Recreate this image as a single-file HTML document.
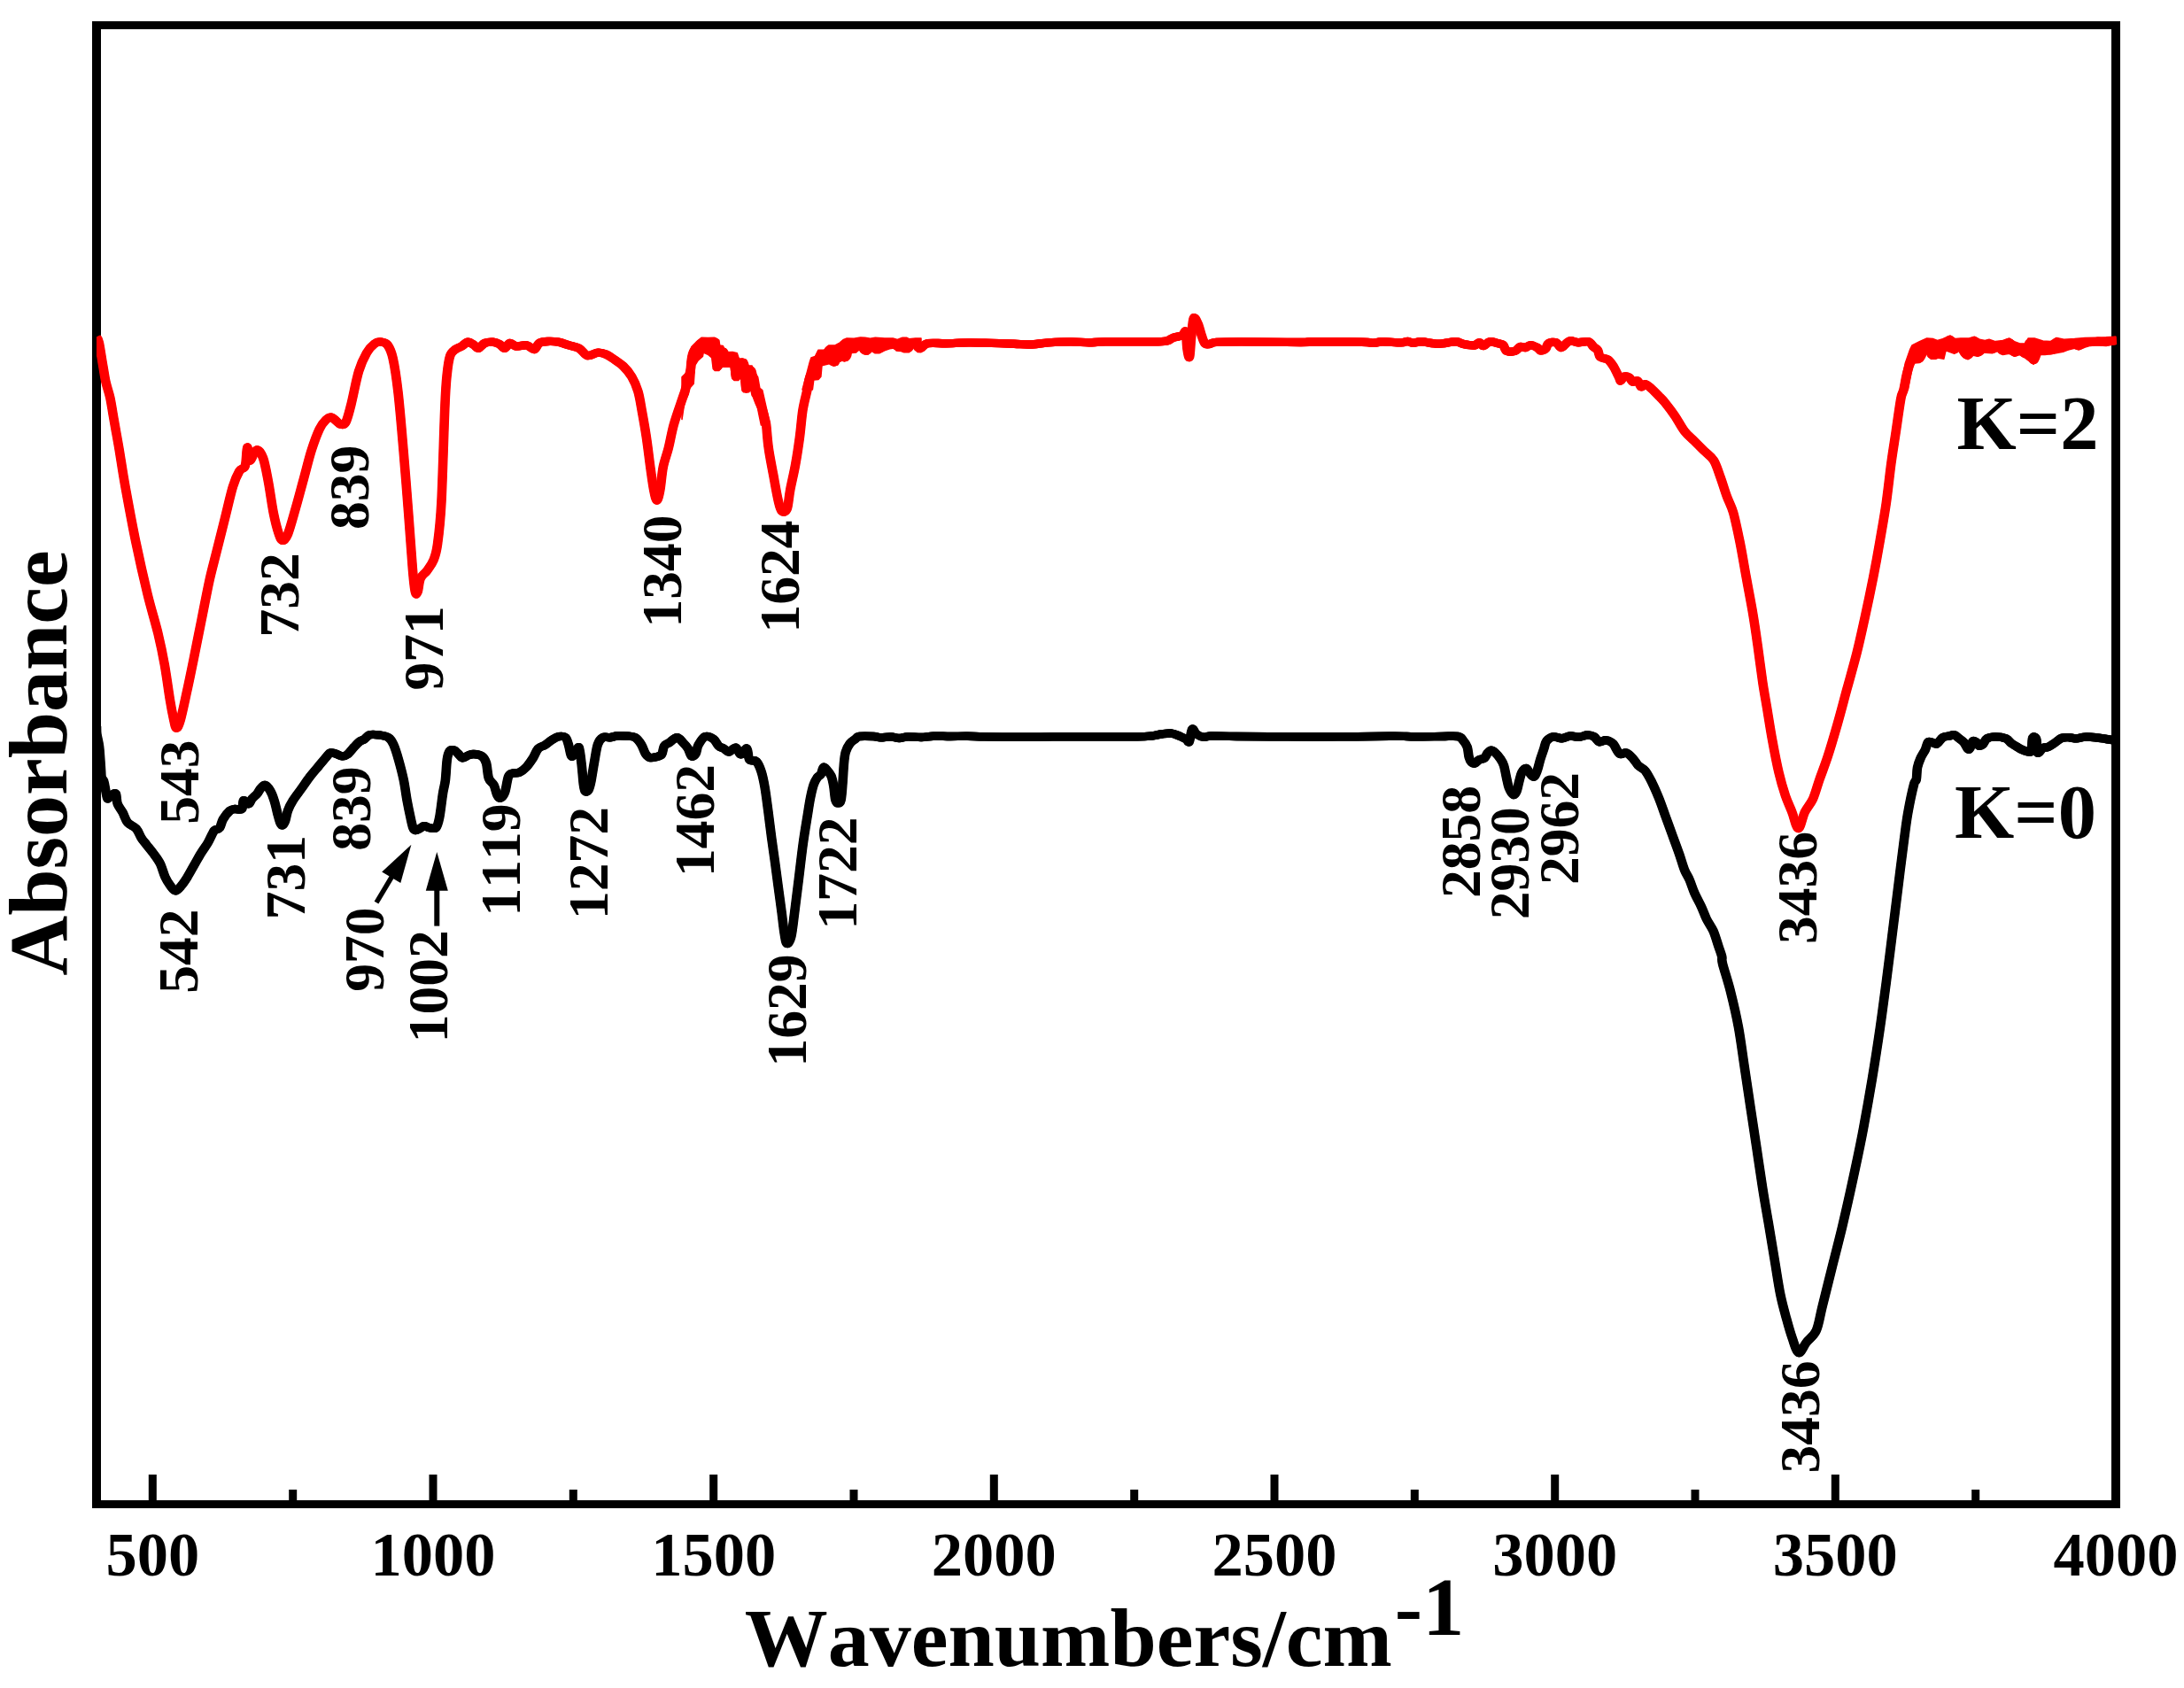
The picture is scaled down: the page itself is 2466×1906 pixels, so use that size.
<!DOCTYPE html>
<html lang="en"><head><meta charset="utf-8"><title>FTIR spectra</title>
<style>html,body{margin:0;padding:0;background:#fff}body{width:2466px;height:1906px;overflow:hidden}svg{display:block}</style></head>
<body>
<svg width="2466" height="1906" viewBox="0 0 2466 1906">
<rect width="2466" height="1906" fill="#fff"/>
<g fill="#000">
<rect x="104" y="24" width="2290" height="9"/>
<rect x="104" y="1694" width="2290" height="9"/>
<rect x="104" y="24" width="10" height="1679"/>
<rect x="2384" y="24" width="10" height="1679"/>
<rect x="167.8" y="1665" width="9" height="30"/>
<rect x="484.5" y="1665" width="9" height="30"/>
<rect x="801.2" y="1665" width="9" height="30"/>
<rect x="1117.8" y="1665" width="9" height="30"/>
<rect x="1434.5" y="1665" width="9" height="30"/>
<rect x="1751.2" y="1665" width="9" height="30"/>
<rect x="2067.8" y="1665" width="9" height="30"/>
<rect x="326.2" y="1682" width="9" height="13"/>
<rect x="642.8" y="1682" width="9" height="13"/>
<rect x="959.5" y="1682" width="9" height="13"/>
<rect x="1276.2" y="1682" width="9" height="13"/>
<rect x="1592.8" y="1682" width="9" height="13"/>
<rect x="1909.5" y="1682" width="9" height="13"/>
<rect x="2226.2" y="1682" width="9" height="13"/>
</g>
<clipPath id="plot"><rect x="109" y="0" width="2281.5" height="1906"/></clipPath>
<g fill="none" stroke-width="9.4" stroke-linejoin="round" stroke-linecap="butt" clip-path="url(#plot)">
<path id="kb" d="M109.0,820.2C109.1,821.7 108.9,825.1 109.4,829.0C109.9,832.9 111.3,836.5 112.1,843.3C112.9,850.1 113.7,864.2 114.1,870.0C114.5,875.8 114.2,875.9 114.7,877.9C115.2,879.9 116.5,879.9 117.2,882.3C118.0,884.7 118.6,889.1 119.2,892.1C119.8,895.1 120.3,898.4 120.8,900.0C121.3,901.6 121.2,902.0 122.1,901.7C123.0,901.4 124.5,899.0 126.0,898.1C127.5,897.2 129.7,894.6 130.8,896.2C131.9,897.8 131.4,904.2 132.7,907.7C134.0,911.2 136.6,913.8 138.5,917.3C140.4,920.8 141.6,925.8 144.2,928.8C146.8,931.8 151.2,932.7 153.8,935.6C156.4,938.5 157.7,943.2 159.6,946.2C161.5,949.2 163.2,950.9 165.4,953.8C167.7,956.7 170.5,960.0 173.1,963.5C175.7,967.0 178.6,970.5 180.8,975.0C183.0,979.5 184.6,986.2 186.5,990.4C188.4,994.6 190.4,997.4 192.3,1000.0C194.2,1002.6 196.0,1005.8 198.1,1005.8C200.2,1005.8 202.6,1002.6 204.8,1000.0C207.0,997.4 209.1,994.2 211.5,990.4C213.9,986.5 216.6,981.4 219.2,976.9C221.8,972.4 224.3,967.7 226.9,963.5C229.5,959.3 232.5,955.4 234.6,951.9C236.7,948.4 238.1,944.7 239.4,942.3C240.7,939.9 240.9,938.8 242.3,937.5C243.8,936.2 246.5,936.7 248.1,934.6C249.7,932.5 250.0,928.2 251.9,925.0C253.8,921.8 257.4,917.3 259.6,915.4C261.9,913.5 263.1,913.8 265.4,913.5C267.6,913.2 271.5,915.1 273.1,913.5C274.7,911.9 273.7,904.8 275.0,903.8C276.3,902.8 279.2,908.0 280.8,907.7C282.4,907.4 283.0,903.8 284.6,901.9C286.2,900.0 288.8,898.1 290.4,896.2C292.0,894.3 292.8,892.0 294.2,890.4C295.6,888.8 297.2,886.2 299.0,886.5C300.8,886.8 303.0,889.4 304.8,892.3C306.6,895.2 308.2,899.3 309.6,903.8C311.1,908.3 312.4,915.0 313.5,919.2C314.6,923.4 315.4,926.7 316.3,928.8C317.2,930.9 318.2,932.0 319.2,931.7C320.2,931.4 321.1,929.6 322.1,926.9C323.1,924.2 323.6,919.2 325.0,915.4C326.4,911.5 328.2,908.0 330.8,903.8C333.4,899.6 337.2,894.9 340.4,890.4C343.6,885.9 346.8,881.1 350.0,876.9C353.2,872.7 356.4,869.2 359.6,865.4C362.8,861.5 366.9,856.4 369.2,853.8C371.4,851.2 371.5,850.5 373.1,850.0C374.7,849.5 376.6,850.4 378.8,851.0C381.0,851.6 384.2,853.6 386.5,853.8C388.8,853.9 390.1,853.6 392.3,851.9C394.6,850.1 397.8,845.7 400.0,843.3C402.2,840.9 403.9,839.0 405.8,837.5C407.7,836.0 409.6,835.9 411.5,834.6C413.4,833.3 414.7,830.6 417.3,829.8C419.9,829.0 423.4,829.3 426.9,829.8C430.4,830.3 435.6,830.9 438.5,832.7C441.4,834.5 442.3,836.2 444.2,840.4C446.1,844.6 448.1,851.0 450.0,857.7C451.9,864.4 454.2,873.1 455.8,880.8C457.4,888.5 458.3,896.8 459.6,903.8C460.9,910.8 462.4,918.0 463.5,923.1C464.6,928.2 465.4,932.2 466.3,934.6C467.2,937.0 467.9,937.3 469.2,937.5C470.5,937.7 472.4,936.4 474.0,935.6C475.6,934.8 477.0,932.9 478.8,932.7C480.6,932.5 482.4,934.3 484.6,934.6C486.9,934.9 490.4,936.5 492.3,934.6C494.2,932.7 494.9,929.5 496.2,923.1C497.5,916.7 498.9,903.2 500.0,896.2C501.1,889.2 502.1,887.2 502.9,880.8C503.7,874.4 504.0,863.2 504.8,857.7C505.6,852.2 506.4,849.9 507.7,848.1C509.0,846.3 510.9,846.6 512.5,847.1C514.1,847.6 515.7,849.5 517.3,851.0C518.9,852.5 520.2,855.5 522.1,855.8C524.0,856.1 526.7,853.6 528.8,852.9C530.9,852.2 532.0,851.4 534.6,851.5C537.2,851.6 541.8,852.1 544.2,853.8C546.6,855.5 547.7,857.3 549.0,861.5C550.3,865.7 550.4,874.6 551.9,878.8C553.4,883.0 556.1,883.3 557.7,886.5C559.3,889.7 560.2,895.7 561.5,898.1C562.8,900.5 563.9,901.6 565.4,901.0C566.9,900.4 568.8,898.2 570.2,894.2C571.6,890.2 572.6,880.4 574.0,876.9C575.4,873.4 576.7,873.9 578.8,873.1C580.9,872.3 583.9,873.2 586.5,872.1C589.1,871.0 591.6,869.0 594.2,866.3C596.8,863.6 599.6,859.3 601.9,855.8C604.1,852.3 605.5,847.6 607.7,845.2C610.0,842.8 612.8,842.9 615.4,841.3C618.0,839.7 620.5,837.2 623.1,835.6C625.7,834.0 628.2,832.2 630.8,831.7C633.4,831.2 636.6,830.9 638.5,832.7C640.4,834.5 641.2,838.8 642.3,842.3C643.4,845.8 643.9,852.5 645.2,853.8C646.5,855.1 648.6,851.6 650.0,850.0C651.4,848.4 652.7,842.0 653.8,844.2C654.9,846.5 655.9,856.8 656.7,863.5C657.5,870.2 658.1,879.6 658.7,884.6C659.4,889.6 659.7,892.0 660.6,893.3C661.5,894.6 663.3,894.1 664.4,892.3C665.5,890.5 666.2,888.2 667.3,882.7C668.4,877.2 669.9,866.7 671.2,859.6C672.5,852.5 673.4,844.9 675.0,840.4C676.6,835.9 678.5,834.0 680.8,832.7C683.0,831.4 685.6,833.0 688.5,832.7C691.4,832.4 694.6,831.0 698.1,830.8C701.6,830.5 706.4,830.9 709.6,831.2C712.8,831.5 714.9,831.2 717.3,832.7C719.7,834.2 722.1,837.4 724.0,840.4C725.9,843.4 727.2,848.5 728.8,851.0C730.4,853.5 731.8,854.8 733.7,855.4C735.6,856.0 738.2,855.4 740.4,854.8C742.6,854.2 745.5,854.0 747.1,851.9C748.7,849.8 748.5,844.5 750.0,842.3C751.5,840.1 753.4,840.1 755.8,838.5C758.2,836.9 761.8,832.7 764.4,832.7C767.0,832.7 769.1,836.4 771.2,838.5C773.3,840.6 775.3,842.7 776.9,845.2C778.5,847.8 779.3,852.8 780.8,853.8C782.2,854.8 784.3,853.1 785.6,851.0C786.9,848.9 786.7,844.5 788.5,841.3C790.3,838.1 793.3,832.8 796.2,831.7C799.1,830.6 803.2,832.8 805.8,834.6C808.3,836.4 809.6,840.5 811.5,842.3C813.4,844.1 815.4,844.1 817.3,845.2C819.2,846.3 820.9,849.2 823.1,849.0C825.4,848.8 828.6,843.7 830.8,844.2C833.0,844.7 834.4,851.7 836.5,851.9C838.6,852.1 841.7,844.2 843.3,845.2C844.9,846.2 844.5,855.3 846.2,857.7C848.0,860.1 851.6,857.4 853.8,859.6C856.0,861.9 858.0,866.4 859.6,871.2C861.2,876.0 862.2,881.1 863.5,888.5C864.8,895.9 866.0,905.8 867.3,915.4C868.6,925.0 869.9,936.6 871.2,946.2C872.5,955.8 873.7,963.8 875.0,973.1C876.3,982.4 877.5,992.3 878.8,1001.9C880.1,1011.5 881.6,1022.1 882.7,1030.8C883.8,1039.5 884.6,1048.0 885.6,1053.8C886.6,1059.6 887.2,1064.8 888.5,1065.4C889.8,1066.1 891.9,1063.5 893.3,1057.7C894.7,1051.9 895.7,1041.7 897.1,1030.8C898.5,1019.9 900.3,1005.2 901.9,992.3C903.5,979.3 905.1,964.8 906.7,953.1C908.3,941.4 910.1,930.9 911.5,922.3C912.9,913.6 913.8,907.3 915.0,901.2C916.2,895.1 917.5,889.6 918.8,885.8C920.1,881.9 921.4,880.0 922.7,878.1C924.1,876.2 925.7,876.1 926.9,874.2C928.1,872.3 928.7,867.3 929.8,866.5C930.9,865.7 932.2,867.8 933.7,869.4C935.2,871.0 937.2,873.2 938.5,876.2C939.8,879.2 940.5,883.2 941.3,887.7C942.1,892.2 942.5,899.9 943.3,903.1C944.1,906.3 945.2,906.9 946.2,906.9C947.2,906.9 948.7,907.0 949.6,903.1C950.5,899.2 951.0,890.5 951.5,883.8C952.0,877.1 952.4,868.5 952.9,862.7C953.4,856.9 953.7,853.1 954.8,849.2C955.9,845.4 957.8,842.0 959.6,839.6C961.4,837.2 963.6,836.1 965.4,834.8C967.2,833.4 966.7,832.0 970.2,831.5C973.7,831.0 982.5,831.3 986.5,831.5C990.5,831.7 991.0,832.8 994.2,832.9C997.4,833.0 1002.3,831.8 1005.8,831.9C1009.3,832.0 1012.2,833.5 1015.4,833.5C1018.6,833.5 1020.8,832.1 1025.0,831.9C1029.2,831.7 1035.6,832.6 1040.4,832.5C1045.2,832.4 1048.3,831.4 1053.8,831.2C1059.2,831.0 1066.7,831.5 1073.1,831.5C1079.5,831.5 1085.9,831.1 1092.3,831.2C1098.7,831.3 1101.9,831.7 1111.5,831.9C1121.1,832.1 1137.2,832.3 1150.0,832.3C1162.8,832.3 1172.5,832.0 1188.5,831.9C1204.5,831.8 1230.2,831.9 1246.2,831.9C1262.2,831.9 1275.6,832.0 1284.6,831.9C1293.6,831.8 1295.5,831.5 1300.0,831.0C1304.5,830.5 1307.7,829.5 1311.5,829.0C1315.3,828.5 1319.6,827.7 1323.1,828.1C1326.6,828.5 1330.0,830.4 1332.7,831.5C1335.4,832.6 1337.7,833.8 1339.4,834.8C1341.1,835.8 1341.7,839.1 1342.7,837.7C1343.7,836.3 1344.5,828.6 1345.2,826.2C1345.9,823.8 1346.1,822.8 1347.1,823.3C1348.1,823.8 1348.9,827.5 1351.0,829.0C1353.1,830.5 1356.9,832.0 1359.6,832.3C1362.3,832.6 1361.2,831.1 1367.3,831.0C1373.4,830.9 1381.8,831.4 1396.2,831.5C1410.6,831.6 1434.6,831.8 1453.8,831.9C1473.0,832.0 1492.3,832.0 1511.5,831.9C1530.7,831.8 1556.4,831.4 1569.2,831.3C1582.0,831.2 1583.4,831.4 1588.5,831.5C1593.6,831.6 1593.3,831.9 1600.0,831.9C1606.7,831.9 1621.1,831.6 1628.8,831.5C1636.5,831.4 1642.3,830.8 1646.2,831.5C1650.1,832.2 1650.2,833.8 1651.9,835.8C1653.7,837.8 1655.6,840.3 1656.7,843.5C1657.8,846.7 1657.9,852.1 1658.7,855.0C1659.5,857.9 1660.4,859.7 1661.5,860.8C1662.6,861.9 1664.0,862.2 1665.4,861.7C1666.9,861.2 1668.4,858.9 1670.2,857.9C1672.0,856.9 1674.4,857.3 1676.0,856.0C1677.6,854.7 1678.5,851.7 1679.8,850.2C1681.1,848.8 1682.2,847.3 1683.7,847.3C1685.2,847.3 1686.8,848.6 1688.5,850.2C1690.2,851.8 1692.6,854.5 1694.2,856.9C1695.8,859.3 1697.0,861.1 1698.1,864.6C1699.2,868.1 1700.0,873.9 1701.0,878.1C1702.0,882.3 1702.5,886.4 1703.8,889.6C1705.1,892.8 1707.2,896.6 1708.7,897.3C1710.2,897.9 1711.4,896.1 1712.5,893.5C1713.6,890.9 1714.4,885.4 1715.4,881.9C1716.4,878.4 1717.0,874.7 1718.3,872.3C1719.6,869.9 1721.7,867.5 1723.1,867.5C1724.5,867.5 1725.5,870.7 1726.9,872.3C1728.3,873.9 1730.2,877.4 1731.7,877.1C1733.2,876.8 1734.3,873.8 1735.6,870.4C1736.9,867.0 1738.1,861.1 1739.4,856.9C1740.7,852.7 1742.2,848.8 1743.3,845.4C1744.4,842.0 1744.5,839.0 1746.2,836.7C1748.0,834.5 1750.9,832.4 1753.8,831.9C1756.7,831.4 1760.3,833.9 1763.5,833.8C1766.7,833.6 1769.9,831.2 1773.1,831.0C1776.3,830.8 1779.5,832.5 1782.7,832.3C1785.9,832.1 1789.4,830.1 1792.3,830.0C1795.2,829.9 1797.8,830.6 1800.0,831.9C1802.2,833.2 1803.5,837.1 1805.8,837.7C1808.0,838.4 1810.9,835.5 1813.5,835.8C1816.1,836.1 1818.7,837.0 1821.2,839.6C1823.8,842.2 1826.2,849.4 1828.8,851.2C1831.3,853.0 1833.9,849.2 1836.5,850.2C1839.1,851.2 1842.0,854.5 1844.2,856.9C1846.5,859.3 1847.8,862.4 1850.0,864.6C1852.2,866.9 1855.1,867.2 1857.7,870.4C1860.3,873.6 1862.8,878.7 1865.4,883.8C1868.0,888.9 1870.5,894.8 1873.1,901.2C1875.7,907.6 1878.2,915.2 1880.8,922.3C1883.4,929.3 1885.9,936.5 1888.5,943.5C1891.1,950.5 1894.0,958.2 1896.2,964.6C1898.4,971.0 1900.0,977.1 1901.9,981.9C1903.8,986.7 1905.8,989.0 1907.7,993.5C1909.6,998.0 1911.2,1003.7 1913.5,1008.8C1915.8,1013.9 1919.0,1019.4 1921.2,1024.2C1923.4,1029.0 1924.7,1033.2 1926.9,1037.7C1929.1,1042.2 1932.3,1046.1 1934.6,1051.2C1936.8,1056.3 1938.8,1063.7 1940.4,1068.5C1942.0,1073.3 1943.4,1076.7 1944.2,1080.0C1945.0,1083.3 1943.4,1081.5 1945.0,1088.1C1946.6,1094.7 1951.0,1107.6 1954.0,1119.6C1957.0,1131.6 1960.4,1145.9 1963.0,1160.2C1965.6,1174.5 1967.5,1190.2 1969.8,1205.2C1972.0,1220.2 1974.2,1235.2 1976.5,1250.2C1978.8,1265.2 1981.0,1280.2 1983.3,1295.2C1985.5,1310.2 1987.8,1325.9 1990.0,1340.2C1992.2,1354.5 1994.5,1367.3 1996.8,1380.8C1999.0,1394.3 2001.2,1407.8 2003.5,1421.3C2005.8,1434.8 2008.0,1450.5 2010.3,1461.8C2012.6,1473.0 2014.8,1480.5 2017.1,1488.8C2019.3,1497.0 2021.5,1504.8 2023.8,1511.3C2026.1,1517.8 2028.4,1526.8 2031.0,1527.5C2033.6,1528.2 2036.3,1520.0 2039.6,1515.8C2042.9,1511.6 2047.8,1509.0 2050.8,1502.3C2053.8,1495.5 2054.6,1487.3 2057.6,1475.3C2060.6,1463.3 2065.1,1445.3 2068.8,1430.3C2072.6,1415.3 2076.3,1401.1 2080.1,1385.3C2083.8,1369.5 2087.6,1353.0 2091.3,1335.7C2095.1,1318.4 2098.8,1301.2 2102.6,1281.7C2106.3,1262.2 2110.4,1239.0 2113.8,1218.7C2117.2,1198.5 2120.3,1178.2 2122.9,1160.2C2125.5,1142.2 2127.3,1127.9 2129.6,1110.6C2131.8,1093.3 2134.2,1074.6 2136.4,1056.6C2138.7,1038.6 2140.8,1020.6 2143.1,1002.6C2145.3,984.6 2148.0,962.9 2149.9,948.6C2151.8,934.4 2152.5,927.6 2154.4,917.1C2156.3,906.6 2159.5,891.7 2161.1,885.5C2162.7,879.3 2163.2,883.1 2163.8,880.0C2164.5,876.9 2164.2,870.7 2165.0,866.7C2165.8,862.7 2167.1,859.4 2168.6,856.0C2170.1,852.6 2172.5,849.4 2173.9,846.4C2175.3,843.4 2175.7,839.5 2176.9,838.1C2178.1,836.7 2179.4,837.8 2181.1,838.1C2182.8,838.4 2184.9,840.8 2187.0,839.9C2189.1,839.0 2191.3,834.2 2193.6,832.7C2195.9,831.2 2198.5,831.5 2200.7,831.0C2202.9,830.5 2204.9,829.4 2206.7,829.8C2208.5,830.2 2209.6,831.9 2211.4,833.3C2213.2,834.7 2215.6,836.0 2217.4,838.1C2219.2,840.2 2220.9,844.7 2222.1,845.8C2223.3,846.9 2223.6,846.1 2224.5,844.6C2225.4,843.1 2226.3,838.0 2227.5,836.9C2228.7,835.8 2230.5,837.2 2231.7,838.1C2232.9,839.0 2233.4,841.9 2234.6,842.3C2235.8,842.7 2237.3,841.9 2238.8,840.5C2240.3,839.1 2241.2,835.3 2243.6,833.9C2246.0,832.5 2249.5,831.9 2253.1,831.9C2256.7,831.9 2262.0,832.7 2265.0,833.9C2268.0,835.1 2269.0,837.8 2271.0,839.3C2273.0,840.8 2274.9,841.7 2276.9,842.9C2278.9,844.1 2280.7,845.4 2282.9,846.4C2285.1,847.4 2288.2,848.6 2290.0,848.8C2291.8,849.0 2292.8,850.0 2293.6,847.6C2294.4,845.2 2294.2,837.1 2294.8,834.5C2295.4,831.9 2296.3,831.9 2297.1,832.1C2297.9,832.3 2298.9,832.7 2299.5,835.7C2300.1,838.7 2299.5,848.5 2300.7,850.0C2301.9,851.5 2304.7,845.7 2306.7,844.6C2308.7,843.5 2310.2,844.6 2312.6,843.5C2315.0,842.4 2318.4,839.8 2321.0,838.1C2323.6,836.4 2325.5,834.2 2328.1,833.3C2330.7,832.4 2333.6,832.6 2336.4,832.7C2339.2,832.8 2341.8,834.0 2344.8,833.9C2347.8,833.8 2350.7,832.3 2354.3,832.1C2357.9,831.9 2362.2,832.3 2366.2,832.7C2370.2,833.1 2374.3,833.9 2378.1,834.5C2381.9,835.1 2387.0,836.0 2388.8,836.3" stroke="#000"/>
<use href="#kb" x="-0.6" stroke="#000"/><use href="#kb" x="0.6" stroke="#000"/>
<path id="kr" d="M109.0,380.7C109.5,381.7 110.6,381.3 111.8,386.7C113.0,392.1 115.0,405.9 116.3,413.3C117.6,420.7 118.1,425.2 119.4,431.1C120.7,437.0 123.0,443.0 124.3,448.9C125.6,454.8 126.4,460.7 127.4,466.6C128.4,472.5 129.2,477.2 130.5,484.4C131.8,491.6 133.2,499.0 135.0,509.9C136.8,520.8 138.4,532.6 141.5,549.6C144.6,566.6 149.1,591.6 153.3,611.8C157.5,632.0 162.4,653.7 166.6,671.0C170.8,688.3 175.3,702.2 178.5,715.5C181.7,728.8 183.7,738.7 185.9,751.0C188.1,763.3 190.1,779.1 191.8,789.5C193.5,799.9 195.1,807.8 196.3,813.2C197.5,818.6 198.0,822.1 199.2,822.1C200.4,822.1 201.7,820.1 203.7,813.2C205.7,806.3 208.6,792.0 211.1,780.6C213.6,769.2 215.8,758.4 218.5,745.1C221.2,731.8 224.4,715.4 227.4,700.6C230.4,685.8 233.4,669.5 236.3,656.2C239.2,642.9 242.2,632.6 245.1,620.7C248.0,608.9 251.0,597.0 254.0,585.1C257.0,573.2 260.2,558.5 262.9,549.6C265.6,540.7 268.0,535.8 270.3,531.8C272.6,527.8 275.3,530.3 276.8,525.9C278.3,521.5 278.3,506.1 279.2,505.1C280.1,504.1 280.5,519.5 282.2,520.0C283.9,520.5 287.1,508.6 289.6,508.1C292.1,507.6 294.8,511.1 297.0,517.0C299.2,522.9 300.9,533.2 302.9,543.6C304.9,554.0 306.8,569.3 308.8,579.2C310.8,589.1 313.1,597.7 314.8,602.9C316.5,608.1 317.5,610.3 319.2,610.3C320.9,610.3 322.6,609.1 325.1,602.9C327.6,596.7 331.0,583.7 334.0,573.3C337.0,562.9 339.9,551.6 342.9,540.7C345.9,529.8 348.8,517.5 351.8,508.1C354.8,498.7 358.0,490.1 360.7,484.4C363.4,478.7 365.9,476.2 368.1,474.0C370.3,471.8 372.0,470.9 374.0,471.1C376.0,471.4 378.2,474.2 379.9,475.5C381.6,476.8 382.7,478.9 384.4,479.1C386.1,479.4 388.3,480.6 390.3,477.0C392.3,473.4 393.7,467.3 396.2,457.7C398.7,448.1 402.1,429.1 405.1,419.2C408.1,409.3 411.0,403.7 414.0,398.5C417.0,393.3 420.2,390.2 422.9,388.1C425.6,386.0 427.8,385.9 430.3,386.1C432.8,386.4 435.5,386.6 437.7,389.6C439.9,392.7 441.6,395.5 443.6,404.4C445.6,413.3 447.5,425.6 449.5,442.9C451.5,460.2 453.5,484.9 455.5,508.1C457.5,531.3 459.7,560.0 461.4,582.2C463.1,604.4 464.6,627.1 465.8,641.4C467.0,655.7 467.8,663.6 468.8,668.1C469.8,672.6 470.7,670.6 471.7,668.1C472.7,665.6 473.0,657.2 474.7,653.2C476.4,649.2 479.6,647.9 482.1,644.4C484.6,640.9 487.5,637.5 489.5,632.5C491.5,627.5 492.5,625.6 494.0,614.7C495.5,603.8 497.0,593.3 498.4,567.3C499.8,541.3 501.3,482.6 502.4,458.5C503.4,434.4 503.7,432.4 504.7,422.9C505.7,413.4 506.7,406.3 508.3,401.6C509.9,396.9 512.0,396.3 514.2,394.5C516.4,392.7 518.9,392.4 521.3,391.0C523.7,389.6 526.0,386.4 528.4,386.2C530.8,386.0 533.5,388.6 535.5,389.8C537.5,391.0 538.3,393.7 540.3,393.3C542.3,392.9 544.6,388.6 547.4,387.4C550.2,386.2 554.1,386.0 556.9,386.2C559.7,386.4 561.8,387.4 564.0,388.6C566.2,389.8 567.9,393.5 569.9,393.3C571.9,393.1 573.6,387.8 575.8,387.4C578.0,387.0 579.7,390.6 582.9,391.0C586.1,391.4 591.4,389.2 594.8,389.8C598.2,390.4 600.7,394.9 603.1,394.5C605.5,394.1 606.4,388.9 609.0,387.4C611.6,385.9 615.0,385.7 618.5,385.5C622.0,385.3 626.3,385.5 630.3,386.2C634.2,386.9 638.2,388.6 642.2,389.8C646.2,391.0 650.5,391.3 654.0,393.3C657.5,395.3 659.9,400.8 663.5,401.6C667.1,402.4 671.8,398.3 675.4,398.1C679.0,397.9 681.8,399.0 684.9,400.4C688.0,401.8 691.1,404.2 694.3,406.4C697.4,408.6 700.6,410.4 703.8,413.5C707.0,416.6 710.5,420.6 713.3,425.3C716.1,430.0 718.4,435.2 720.4,441.9C722.4,448.6 723.5,456.9 725.1,465.6C726.7,474.3 728.3,483.3 729.9,494.0C731.5,504.7 733.2,519.7 734.6,529.6C736.0,539.5 737.0,547.4 738.2,553.3C739.4,559.2 740.5,565.1 741.7,565.1C742.9,565.1 744.1,559.6 745.3,553.3C746.5,547.0 747.2,535.1 748.8,527.2C750.4,519.3 752.8,513.8 754.8,505.9C756.8,498.0 758.2,488.9 760.7,479.8C763.2,470.8 767.8,458.1 770.0,451.6C772.2,445.1 772.6,444.3 773.7,440.6C774.8,436.9 775.6,433.3 776.6,429.6C777.6,425.9 778.8,422.3 779.5,418.6C780.2,414.9 780.2,410.8 780.6,407.6C781.0,404.4 781.4,401.8 782.1,399.6C782.8,397.4 783.6,396.0 784.7,394.4C785.9,392.8 787.5,391.3 789.0,390.0C790.5,388.7 791.7,386.9 793.4,386.7C795.1,386.5 797.6,388.5 799.3,388.6C801.0,388.7 802.4,387.9 803.7,387.5C805.1,387.1 806.5,384.9 807.4,386.4C808.2,387.9 808.4,392.0 808.8,396.6C809.2,401.2 809.0,412.6 809.9,413.8C810.8,415.0 812.8,406.7 814.0,404.0C815.2,401.3 815.7,396.7 816.9,397.4C818.1,398.1 819.8,407.4 821.3,408.4C822.8,409.4 824.4,403.8 825.7,403.2C827.0,402.6 828.4,401.1 829.3,404.7C830.1,408.3 830.1,422.5 830.8,424.8C831.5,427.1 832.9,421.0 833.7,418.6C834.6,416.2 834.8,411.6 835.9,410.5C837.0,409.4 839.2,407.4 840.3,412.0C841.3,416.6 841.5,435.1 842.2,438.0C842.9,440.9 843.8,432.8 844.7,429.6C845.6,426.4 846.8,419.2 847.7,418.6C848.6,418.0 849.2,422.8 849.9,425.9C850.6,428.9 851.2,433.2 852.1,436.9C853.0,440.6 854.0,444.8 855.0,447.9C856.0,450.9 856.9,452.8 857.9,455.2C858.9,457.6 859.8,459.5 860.8,462.6C861.8,465.7 863.1,470.7 863.8,473.6C864.5,476.5 864.5,474.6 865.2,480.0C865.9,485.4 866.4,496.4 867.8,505.9C869.1,515.4 871.5,526.8 873.3,536.7C875.1,546.6 877.1,558.4 878.7,565.1C880.3,571.8 881.0,575.4 882.7,577.0C884.4,578.6 887.1,578.6 888.7,574.6C890.3,570.6 890.6,561.6 892.2,553.3C893.8,545.0 896.3,534.8 898.1,524.9C899.9,515.0 901.5,504.3 902.9,494.0C904.3,483.7 905.0,472.2 906.4,463.2C907.8,454.2 910.2,446.2 911.5,440.0C912.8,433.8 913.0,429.5 914.4,425.9C915.8,422.3 918.5,419.0 919.6,418.6C920.7,418.2 920.4,424.9 921.0,423.7C921.6,422.5 922.5,414.1 923.2,411.3C923.9,408.5 924.7,408.6 925.4,406.9C926.1,405.2 926.4,401.5 927.6,401.0C928.8,400.5 931.2,405.0 932.7,404.0C934.2,403.0 935.3,394.7 936.4,395.2C937.5,395.7 938.2,404.8 939.3,406.9C940.4,409.0 942.1,409.6 943.0,407.6C943.9,405.7 943.8,395.8 944.5,395.2C945.2,394.6 946.4,404.5 947.4,404.0C948.4,403.5 949.3,392.4 950.3,392.2C951.3,391.9 952.3,401.0 953.3,402.5C954.3,404.0 955.5,403.4 956.2,401.0C956.9,398.6 956.9,389.1 957.7,387.8C958.6,386.5 959.8,392.3 961.3,393.0C962.8,393.7 964.7,393.3 966.4,392.2C968.1,391.1 970.1,386.0 971.6,386.4C973.1,386.8 973.9,392.9 975.2,394.4C976.5,395.9 978.4,396.3 979.6,395.2C980.8,394.1 981.2,388.1 982.6,387.8C984.0,387.6 986.0,392.7 987.7,393.7C989.4,394.7 991.0,394.5 992.8,393.7C994.6,392.9 996.8,389.6 998.7,388.6C1000.7,387.6 1002.7,387.9 1004.5,387.8C1006.3,387.7 1008.4,387.3 1009.7,387.8C1011.1,388.3 1011.3,390.2 1012.6,390.8C1013.9,391.4 1016.2,391.1 1017.7,391.5C1019.2,391.9 1020.0,392.8 1021.4,393.0C1022.8,393.2 1024.6,393.9 1025.8,393.0C1027.0,392.1 1027.4,388.4 1028.7,387.5C1030.0,386.6 1032.5,386.9 1033.8,387.8C1035.1,388.7 1035.8,391.7 1036.8,392.6C1037.8,393.5 1038.2,393.8 1040.0,393.0C1041.8,392.2 1043.0,388.6 1047.7,387.7C1052.4,386.8 1060.5,387.8 1068.2,387.7C1075.9,387.6 1085.2,386.9 1093.8,386.9C1102.3,386.8 1111.0,387.2 1119.5,387.4C1128.0,387.6 1137.8,387.9 1145.1,388.2C1152.4,388.5 1156.7,389.2 1163.1,389.0C1169.5,388.8 1175.9,387.4 1183.6,386.9C1191.3,386.4 1201.5,385.9 1209.2,385.9C1216.9,385.9 1223.3,386.9 1229.7,386.9C1236.1,386.9 1236.2,386.1 1247.7,385.9C1259.2,385.7 1287.5,386.0 1299.0,385.9C1310.5,385.8 1312.6,385.9 1316.9,385.1C1321.2,384.3 1321.6,382.4 1324.6,381.3C1327.6,380.2 1332.6,379.8 1334.9,378.7C1337.2,377.6 1337.8,372.3 1338.7,374.9C1339.6,377.5 1339.8,389.4 1340.5,394.1C1341.2,398.8 1342.3,405.2 1343.1,403.1C1343.9,401.0 1344.3,388.6 1345.1,381.3C1345.9,374.0 1346.4,362.1 1347.7,359.5C1349.0,356.9 1351.3,362.7 1352.8,365.9C1354.3,369.1 1355.4,375.1 1356.7,378.7C1358.0,382.3 1359.0,386.1 1360.5,387.7C1362.0,389.3 1363.5,388.7 1365.6,388.5C1367.7,388.3 1367.3,386.8 1373.3,386.4C1379.3,386.0 1388.2,385.9 1401.5,385.9C1414.8,385.9 1440.0,386.3 1452.8,386.4C1465.6,386.5 1474.0,386.5 1478.5,386.4C1483.0,386.3 1470.1,385.8 1480.0,385.8C1489.9,385.8 1525.8,385.9 1537.7,386.2C1549.6,386.4 1547.4,387.4 1551.2,387.3C1555.0,387.2 1555.7,385.9 1560.8,385.8C1565.9,385.7 1577.1,387.0 1581.9,386.9C1586.7,386.8 1587.3,385.3 1589.6,385.4C1591.8,385.5 1592.8,387.2 1595.4,387.3C1598.0,387.4 1600.2,385.6 1605.0,385.8C1609.8,386.0 1617.8,388.3 1624.2,388.3C1630.6,388.3 1638.7,385.7 1643.5,385.8C1648.3,385.9 1649.6,388.0 1653.1,388.7C1656.6,389.4 1661.7,390.3 1664.6,390.0C1667.5,389.7 1668.6,386.6 1670.4,386.7C1672.2,386.8 1673.3,390.8 1675.2,390.6C1677.1,390.5 1679.2,386.3 1681.9,385.8C1684.6,385.3 1688.9,387.1 1691.5,387.7C1694.1,388.3 1695.7,388.2 1697.3,389.6C1698.9,391.0 1699.0,395.2 1701.2,396.3C1703.5,397.4 1708.2,397.1 1710.8,396.3C1713.3,395.5 1714.6,392.1 1716.5,391.5C1718.4,390.9 1720.4,392.8 1722.3,392.5C1724.2,392.2 1725.8,389.6 1728.1,389.6C1730.3,389.6 1733.9,391.5 1735.8,392.5C1737.7,393.5 1738.0,395.6 1739.6,395.8C1741.2,396.0 1744.0,394.9 1745.4,393.5C1746.9,392.1 1746.4,388.8 1748.3,387.7C1750.2,386.6 1754.5,385.9 1756.9,386.7C1759.3,387.5 1760.8,392.3 1762.7,392.5C1764.6,392.7 1766.7,389.0 1768.5,387.7C1770.3,386.4 1771.1,385.0 1773.3,384.8C1775.5,384.6 1778.5,386.5 1781.9,386.7C1785.3,386.9 1790.6,385.0 1793.5,385.8C1796.4,386.6 1797.5,389.9 1799.2,391.5C1801.0,393.1 1802.7,393.5 1804.0,395.4C1805.3,397.3 1805.0,401.3 1806.9,403.1C1808.8,404.9 1813.0,404.1 1815.6,406.0C1818.2,407.9 1820.2,411.2 1822.3,414.6C1824.4,418.0 1826.8,423.6 1828.1,426.2C1829.4,428.8 1829.0,430.2 1830.0,430.0C1831.0,429.8 1832.2,425.8 1833.8,425.2C1835.4,424.6 1838.0,425.2 1839.6,426.2C1841.2,427.2 1841.9,430.4 1843.5,431.0C1845.1,431.6 1847.6,429.1 1849.2,430.0C1850.8,430.9 1851.6,436.1 1853.1,436.7C1854.5,437.3 1856.0,433.5 1857.9,433.8C1859.8,434.1 1861.9,436.3 1864.6,438.7C1867.3,441.1 1871.6,445.6 1874.2,448.3C1876.8,451.0 1877.2,451.1 1880.0,454.6C1882.8,458.1 1887.3,463.9 1891.0,469.3C1894.7,474.7 1898.3,482.1 1902.0,486.9C1905.7,491.7 1909.4,494.3 1913.1,498.0C1916.8,501.7 1920.4,505.3 1924.1,509.0C1927.8,512.7 1932.0,515.1 1935.1,520.0C1938.1,524.9 1940.0,531.7 1942.4,538.4C1944.9,545.1 1947.3,553.7 1949.8,560.4C1952.2,567.1 1954.6,570.2 1957.1,578.8C1959.5,587.4 1962.0,599.6 1964.5,611.8C1967.0,624.0 1969.3,638.7 1971.8,652.2C1974.2,665.7 1977.0,679.8 1979.2,692.7C1981.4,705.6 1982.9,716.5 1984.7,729.4C1986.5,742.2 1988.4,757.5 1990.2,769.8C1992.0,782.0 1993.9,791.9 1995.7,802.9C1997.5,813.9 1999.1,824.3 2001.2,835.9C2003.3,847.5 2006.1,862.3 2008.6,872.7C2011.0,883.1 2013.5,891.1 2015.9,898.4C2018.4,905.7 2020.8,910.5 2023.3,916.7C2025.8,922.9 2028.1,935.5 2030.6,935.5C2033.0,935.5 2035.2,922.3 2038.0,916.7C2040.8,911.1 2044.3,908.1 2047.1,902.0C2049.8,895.9 2051.7,888.0 2054.5,880.0C2057.3,872.0 2060.3,864.7 2063.7,854.3C2067.1,843.9 2071.0,830.5 2074.7,817.6C2078.4,804.7 2082.0,790.6 2085.7,777.1C2089.4,763.6 2093.3,750.2 2096.7,736.7C2100.1,723.2 2102.8,710.4 2105.9,696.3C2109.0,682.2 2112.3,666.3 2115.1,652.2C2117.9,638.1 2120.1,625.9 2122.5,611.8C2124.9,597.7 2127.7,582.5 2129.8,567.8C2131.9,553.1 2133.5,537.2 2135.3,523.7C2137.1,510.2 2139.0,499.1 2140.8,486.9C2142.6,474.6 2144.9,458.0 2146.3,450.2C2147.8,442.4 2148.4,444.7 2149.5,440.0C2150.6,435.3 2151.7,427.3 2153.1,421.9C2154.5,416.5 2156.1,411.2 2157.9,407.6C2159.7,404.0 2162.2,401.0 2163.8,400.5C2165.4,400.0 2166.0,405.4 2167.4,404.6C2168.8,403.8 2170.5,398.4 2172.1,395.7C2173.7,393.0 2175.4,387.8 2176.9,388.6C2178.4,389.4 2179.3,398.7 2181.1,400.5C2182.9,402.3 2185.7,401.1 2187.6,399.3C2189.5,397.5 2191.0,391.2 2192.4,389.8C2193.8,388.4 2194.4,392.0 2196.0,391.0C2197.6,390.0 2200.1,383.2 2201.9,383.8C2203.7,384.4 2204.9,393.7 2206.7,394.5C2208.5,395.3 2210.7,388.0 2212.6,388.6C2214.5,389.2 2216.4,396.0 2218.0,398.1C2219.6,400.2 2220.8,401.5 2222.1,401.1C2223.4,400.7 2224.5,398.4 2225.7,395.7C2226.9,393.0 2228.1,384.7 2229.3,385.0C2230.5,385.3 2231.3,396.1 2232.9,397.5C2234.5,398.9 2236.8,394.8 2238.8,393.3C2240.8,391.8 2243.0,388.5 2244.8,388.6C2246.6,388.7 2247.5,393.5 2249.5,393.9C2251.5,394.3 2254.7,390.7 2256.7,391.0C2258.7,391.3 2259.4,396.4 2261.4,395.7C2263.4,395.0 2266.4,386.5 2268.6,386.8C2270.8,387.1 2272.5,396.2 2274.5,397.5C2276.5,398.8 2278.5,394.2 2280.5,394.5C2282.5,394.8 2284.9,399.1 2286.4,399.3C2287.9,399.5 2288.5,397.7 2289.4,395.7C2290.3,393.7 2290.9,386.4 2291.8,387.4C2292.7,388.4 2294.0,398.5 2294.8,401.7C2295.6,404.9 2295.7,406.8 2296.5,406.4C2297.3,406.0 2298.6,402.3 2299.5,399.3C2300.4,396.3 2300.3,389.4 2301.9,388.6C2303.5,387.8 2306.2,393.5 2309.0,394.5C2311.8,395.5 2316.4,395.9 2318.6,394.5C2320.8,393.1 2320.1,386.8 2322.1,386.2C2324.1,385.6 2328.1,390.4 2330.5,391.0C2332.9,391.6 2334.4,390.3 2336.4,389.8C2338.4,389.3 2340.6,387.9 2342.4,388.0C2344.2,388.1 2345.1,390.6 2347.1,390.4C2349.1,390.2 2351.1,387.6 2354.3,386.8C2357.5,386.0 2362.2,385.8 2366.2,385.6C2370.2,385.4 2374.2,385.8 2378.1,385.6C2381.9,385.4 2387.4,384.6 2389.3,384.4" stroke="#f00"/>
<use href="#kr" x="-0.6" stroke="#f00"/><use href="#kr" x="0.6" stroke="#f00"/>
<polygon fill="#f00" stroke="#f00" stroke-width="1.5" points="906.0,440.0 910.0,425.2 914.4,408.4 915.9,404.0 920.3,402.5 924.0,395.2 930.5,395.2 935.7,390.0 943.0,390.0 948.1,387.1 952.5,383.4 956.2,382.0 964.2,382.3 971.6,380.9 976.7,381.2 982.6,382.3 988.4,381.2 998.7,382.0 1008.2,382.0 1013.3,383.4 1019.2,381.2 1023.6,381.2 1026.5,382.7 1033.8,382.0 1040.0,382.0 1040.0,397.7 1036.0,397.4 1033.8,393.0 1028.7,392.2 1026.5,397.7 1020.7,397.7 1017.7,396.6 1011.9,395.9 1009.7,393.0 1004.5,393.7 998.7,395.9 992.8,398.8 987.7,398.8 986.2,395.2 983.3,395.2 980.4,399.9 975.2,399.6 973.0,395.2 969.4,395.2 966.4,398.1 961.3,398.5 959.1,396.6 957.7,405.4 953.3,408.0 948.9,406.2 945.9,412.0 940.8,412.7 937.1,410.5 928.0,412.7 926.9,425.2 924.0,428.5 918.8,428.9 917.4,440.0"/>
<polygon fill="#f00" stroke="#f00" stroke-width="1.5" points="770.0,425.9 775.1,420.8 777.3,402.5 781.0,391.5 787.6,384.9 792.0,381.2 799.3,381.6 806.6,381.2 811.8,384.2 812.1,390.0 816.2,390.4 819.8,397.7 827.1,397.4 832.3,398.8 834.1,404.7 842.5,406.2 844.7,412.7 849.1,413.1 851.3,418.6 855.7,425.9 857.9,438.4 860.8,440.6 863.8,453.8 867.4,469.9 868.9,480.0 859.4,480.0 856.4,465.5 854.2,452.3 849.1,446.4 847.7,439.9 845.5,442.8 839.6,442.8 838.1,441.3 836.7,425.9 833.7,429.6 829.3,429.6 827.1,427.4 824.9,414.2 815.4,414.2 811.8,418.6 807.4,418.6 805.2,416.4 803.7,404.0 799.3,400.3 794.2,398.1 793.4,402.5 788.3,406.9 784.7,412.7 783.2,433.3 778.1,439.1 777.3,445.0 772.9,453.8 770.0,473.6"/>
<polygon fill="#f00" stroke="#f00" stroke-width="1.5" points="2145.4,440.0 2151.3,410.0 2156.7,394.5 2159.0,389.8 2167.4,385.6 2175.7,382.0 2182.9,382.6 2187.6,384.4 2193.6,382.6 2201.9,379.0 2207.9,382.6 2213.8,382.0 2223.3,382.0 2229.3,380.2 2235.2,383.2 2241.2,384.4 2246.0,383.2 2253.1,385.6 2261.4,384.4 2268.6,382.0 2274.5,385.6 2280.5,388.0 2287.6,388.0 2290.0,382.0 2297.1,382.0 2306.7,385.0 2315.0,385.6 2322.1,381.4 2330.5,383.2 2342.4,382.6 2354.3,381.4 2366.2,381.2 2378.1,380.8 2388.8,380.2 2388.8,388.6 2378.1,390.4 2366.2,389.8 2360.2,390.4 2354.3,392.1 2347.1,395.1 2342.4,393.3 2335.2,395.1 2330.5,396.9 2318.6,399.3 2309.0,400.5 2301.9,400.5 2300.7,407.6 2296.0,411.2 2291.2,407.6 2286.4,404.0 2280.5,400.5 2274.5,402.3 2268.6,399.3 2261.4,400.5 2256.7,395.7 2249.5,398.7 2238.8,398.1 2232.9,402.3 2226.9,401.1 2222.1,405.8 2217.4,402.9 2211.4,395.7 2206.7,399.3 2197.1,395.7 2194.8,405.2 2187.6,404.0 2180.5,405.2 2178.1,396.9 2173.3,400.5 2171.0,406.4 2167.4,409.4 2161.4,410.0 2159.6,413.6 2154.3,440.0"/>
</g>
<g font-family="'Liberation Serif', serif" font-weight="bold" fill="#000" text-anchor="middle" style="font-kerning:none">
<text x="172.3" y="1778.5" font-size="70.5">500</text>
<text x="489.0" y="1778.5" font-size="70.5">1000</text>
<text x="805.7" y="1778.5" font-size="70.5">1500</text>
<text x="1122.3" y="1778.5" font-size="70.5">2000</text>
<text x="1439.0" y="1778.5" font-size="70.5">2500</text>
<text x="1755.7" y="1778.5" font-size="70.5">3000</text>
<text x="2072.3" y="1778.5" font-size="70.5">3500</text>
<text x="2389.0" y="1778.5" font-size="70.5">4000</text>
<text x="1247" y="1881" font-size="94">Wavenumbers/cm<tspan dy="-35" dx="3">-1</tspan></text>
<text transform="translate(74.5,861.5) rotate(-90)" font-size="94">Absorbance</text>
<text x="2289.5" y="507" font-size="86.5">K=2</text>
<text x="2287" y="945.5" font-size="86.5">K=0</text>
<text transform="translate(224.0,883.2) rotate(-90)" font-size="63.5">543</text>
<text transform="translate(337.0,671.8) rotate(-90)" font-size="63.5">732</text>
<text transform="translate(415.5,550.3) rotate(-90)" font-size="63.5">839</text>
<text transform="translate(499.9,731.8) rotate(-90)" font-size="63.5">971</text>
<text transform="translate(769.0,645.1) rotate(-90)" font-size="63.5">1340</text>
<text transform="translate(902.0,651.0) rotate(-90)" font-size="63.5">1624</text>
<text transform="translate(2051.2,1002.5) rotate(-90)" font-size="63.5">3436</text>
<text transform="translate(223.1,1074.0) rotate(-90)" font-size="63.5">542</text>
<text transform="translate(344.2,990.7) rotate(-90)" font-size="63.5">731</text>
<text transform="translate(418.3,913.0) rotate(-90)" font-size="63.5">839</text>
<text transform="translate(433.1,1072.1) rotate(-90)" font-size="63.5">970</text>
<text transform="translate(505.4,1113.7) rotate(-90)" font-size="63.5">1002</text>
<text transform="translate(586.5,971.1) rotate(-90)" font-size="63.5">1119</text>
<text transform="translate(686.2,974.5) rotate(-90)" font-size="63.5">1272</text>
<text transform="translate(806.2,926.5) rotate(-90)" font-size="63.5">1462</text>
<text transform="translate(910.0,1140.9) rotate(-90)" font-size="63.5">1629</text>
<text transform="translate(967.0,986.0) rotate(-90)" font-size="63.5">1722</text>
<text transform="translate(1671.2,950.4) rotate(-90)" font-size="63.5">2858</text>
<text transform="translate(1726.3,974.8) rotate(-90)" font-size="63.5">2930</text>
<text transform="translate(1782.1,935.5) rotate(-90)" font-size="63.5">2962</text>
<text transform="translate(2054.1,1600.1) rotate(-90)" font-size="63.5">3436</text>
</g>
<g fill="#000" stroke="none">
<polygon points="493.3,962 505.8,1005.8 480.8,1005.8"/>
<rect x="490.3" y="1004" width="6" height="41.6"/>
<polygon points="464.4,953.8 452.3,997.1 431.2,984.6"/>
<line x1="425" y1="1019.2" x2="443" y2="989" stroke="#000" stroke-width="5.5"/>
</g>
</svg>
</body></html>
